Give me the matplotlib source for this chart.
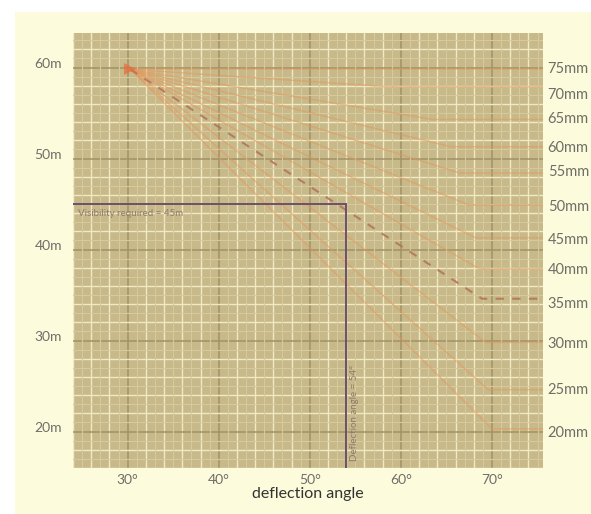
import matplotlib
matplotlib.use("Agg")
import matplotlib.pyplot as plt
from matplotlib.patches import Rectangle
from matplotlib.ticker import MultipleLocator
import matplotlib.transforms as mtransforms

# ---- data ----
lens_labels = ["75mm", "70mm", "65mm", "60mm", "55mm", "50mm",
               "45mm", "40mm", "35mm", "30mm", "25mm", "20mm"]
label_y = [59.8, 57.0, 54.3, 51.2, 48.5, 44.7, 41.1, 37.8, 34.0, 29.6, 24.6, 19.9]
line_level = [59.8, 57.9, 54.3, 51.3, 48.4, 44.9, 41.3, 37.9, 34.6, 29.8, 24.6, 20.3]
knee_x = [30.3, 58.5, 63.5, 65.5, 66.5, 67.5, 68.2, 68.6, 68.9, 69.3, 69.6, 70.0]
apex = (30.3, 59.8)
dashed_lens = "35mm"

x_ticks = [30, 40, 50, 60, 70]
x_ticklabels = ["30°", "40°", "50°", "60°", "70°"]
y_ticks = [20, 30, 40, 50, 60]
y_ticklabels = ["20m", "30m", "40m", "50m", "60m"]

visibility = 45
deflection = 54
x_label = "deflection angle"
vis_text = "Visibility required = 45m"
defl_text = "Deflection angle = 54°"

xlim = (24.0, 75.6)
ylim = (16.0, 63.8)

plt.rcParams['font.family'] = ['Lato', 'DejaVu Sans']

fig = plt.figure(figsize=(5.91, 5.14), dpi=100)
fig.patch.set_facecolor("white")
fig.patches.append(Rectangle((15 / 591, 0), 1, 1 - 12 / 514, transform=fig.transFigure,
                             facecolor="#fcfbdb", edgecolor="none", zorder=-10))

ax = fig.add_axes([73 / 591, 1 - 468 / 514, 470 / 591, 435 / 514])
ax.set_zorder(5)
ax.set_facecolor("#c7b98a")
ax.set_xlim(*xlim)
ax.set_ylim(*ylim)
for s in ax.spines.values():
    s.set_visible(False)

# grid: faint at 1, light at 2, dark at 10
for v in range(25, 76):
    if v % 2 == 1:
        ax.axvline(v, color="#d6ca9c", lw=0.8, zorder=1)
for v in range(17, 64):
    if v % 2 == 1:
        ax.axhline(v, color="#d6ca9c", lw=0.8, zorder=1)
ax.xaxis.set_major_locator(MultipleLocator(10))
ax.yaxis.set_major_locator(MultipleLocator(10))
ax.xaxis.set_minor_locator(MultipleLocator(2))
ax.yaxis.set_minor_locator(MultipleLocator(2))
ax.grid(which="minor", color="#f1e9c2", lw=1.0, zorder=2)
ax.grid(which="major", color="#a29266", lw=1.1, zorder=2)
ax.set_axisbelow(True)

ax.set_xticks(x_ticks)
ax.set_xticklabels(x_ticklabels)
ax.set_yticks(y_ticks)
ax.set_yticklabels(y_ticklabels)
ax.tick_params(which="both", length=0)
ax.tick_params(axis="x", labelsize=10, labelcolor="#6e6e68", pad=4)
ax.tick_params(axis="y", labelsize=10, labelcolor="#6e6e68", pad=8)
for lab in ax.get_yticklabels():
    lab.set_transform(lab.get_transform() + mtransforms.ScaledTranslation(0, 5 / 100, fig.dpi_scale_trans))
ax.set_xlabel(x_label, fontsize=11.5, color="#333333", labelpad=1)

# fan lines
for lab, lvl, kx in zip(lens_labels, line_level, knee_x):
    xs = [apex[0], kx, xlim[1]]
    ys = [apex[1], lvl, lvl]
    if lab == dashed_lens:
        ax.plot(xs, ys, color="#b07458", lw=1.5, ls=(0, (4, 4)), alpha=0.85, zorder=4)
    else:
        ax.plot(xs, ys, color="#e8955a", lw=1.1, alpha=0.5, zorder=3)
ax.plot([apex[0]], [apex[1]], marker=">", ms=8, color="#ec6a3a", alpha=0.7,
        zorder=5, markeredgewidth=0)

# right labels
trans = mtransforms.blended_transform_factory(ax.transAxes, ax.transData)
for lab, yy in zip(lens_labels, label_y):
    ax.text(1.01, yy, lab, transform=trans, fontsize=10.5, color="#6e6e68",
            va="center", ha="left", clip_on=False)

# purple reading lines
purple = "#6f4f6c"
ax.plot([xlim[0], deflection], [visibility, visibility], color=purple, lw=1.4, zorder=6)
ax.plot([deflection, deflection], [visibility, ylim[0]], color=purple, lw=1.4, zorder=6)
ax.text(24.6, visibility - 0.5, vis_text, fontsize=7, color="#8f7a6c",
        va="top", ha="left", zorder=6)
ax.text(deflection + 0.4, ylim[0] + 0.8, defl_text, fontsize=7, color="#8f7a6c",
        rotation=90, va="bottom", ha="left", zorder=6)

fig.savefig("out.png", dpi=100)
